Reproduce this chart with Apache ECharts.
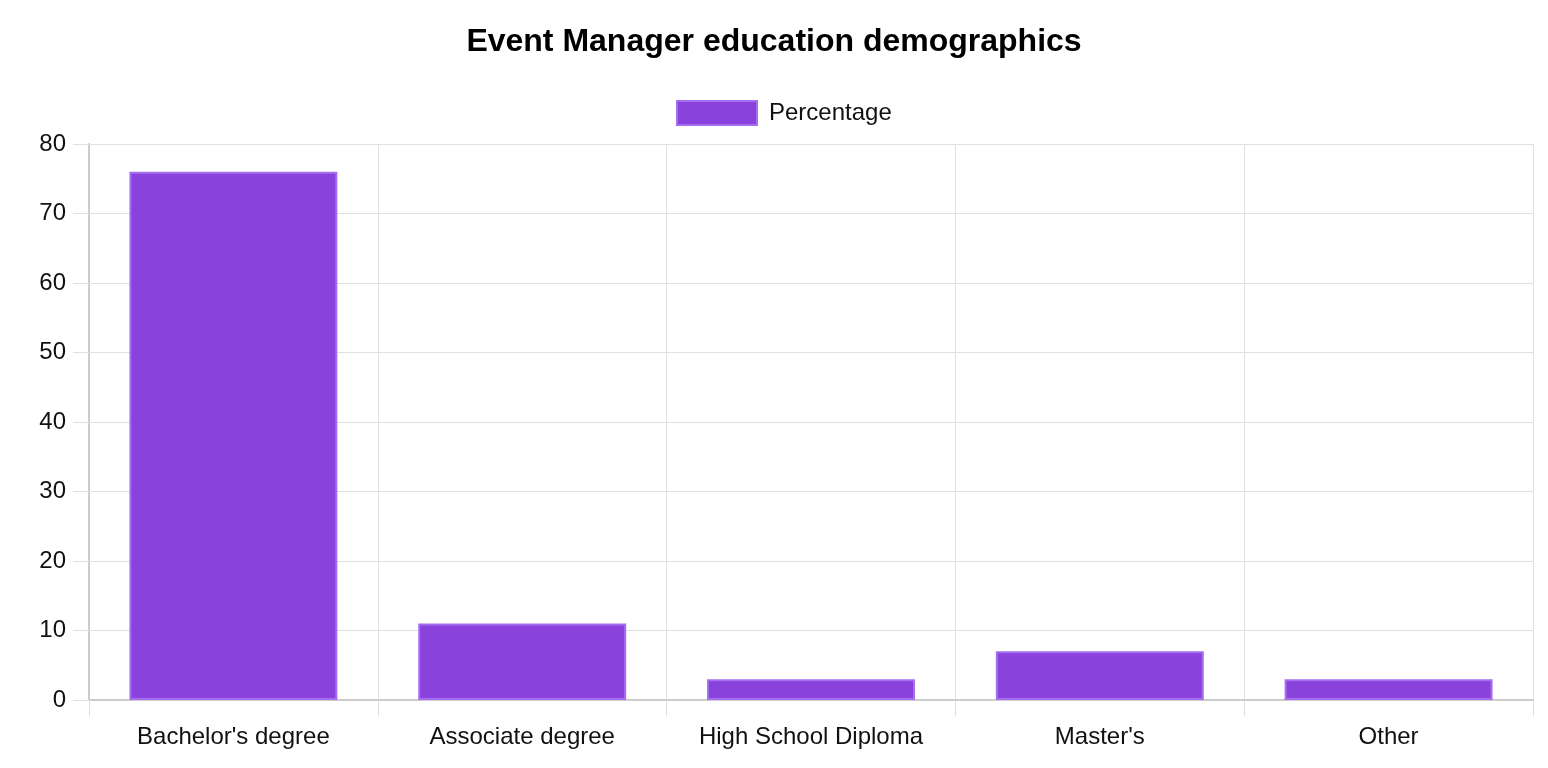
<!DOCTYPE html>
<html lang="en">
<head>
    <meta charset="UTF-8">
    <title>Event Manager education demographics</title>
    <script src="https://cdn.jsdelivr.net/npm/echarts@6/dist/echarts.min.js"></script>
    <style>
        html, body { margin: 0; padding: 0; background: #fff; }
        #chart { width: 1548px; height: 768px; }
    </style>
</head>
<body>
    <div id="chart"></div>
    <script>
        // data
        var categories = ["Bachelor's degree", 'Associate degree', 'High School Diploma', "Master's", 'Other'];
        var percentages = [76, 11, 3, 7, 3];
        var seriesName = 'Percentage';

        var chart = echarts.init(document.getElementById('chart'));
        var font = 'Helvetica, Arial, "Liberation Sans", sans-serif';
        chart.setOption({
            animation: false,
            title: {
                text: 'Event Manager education demographics',
                left: 'center',
                top: 21,
                textStyle: { fontFamily: font, fontSize: 32, fontWeight: 'bold', color: '#000' }
            },
            legend: {
                top: 95,
                left: 671,
                icon: 'rect',
                itemWidth: 80,
                itemHeight: 24,
                textStyle: { fontFamily: font, fontSize: 24, color: '#111', padding: [0, 0, 0, 7] },
                data: [seriesName]
            },
            grid: { left: 89, right: 15, top: 144, bottom: 68 },
            xAxis: {
                type: 'category',
                data: categories,
                axisLine: { lineStyle: { color: '#ccc', width: 2 } },
                axisTick: { show: true, interval: 0, length: 16, lineStyle: { color: '#ddd' } },
                splitLine: { show: true, interval: 0, lineStyle: { color: '#e0e0e0' } },
                axisLabel: { interval: 0, fontFamily: font, fontSize: 24, color: '#111', margin: 25 }
            },
            yAxis: {
                type: 'value',
                min: 0,
                max: 80,
                interval: 10,
                axisLine: { show: true, lineStyle: { color: '#ccc', width: 2 } },
                axisTick: { show: true, length: 16, lineStyle: { color: '#e0e0e0' } },
                splitLine: { lineStyle: { color: '#e0e0e0' } },
                axisLabel: { fontFamily: font, fontSize: 24, color: '#111', margin: 23 }
            },
            series: [{
                name: seriesName,
                type: 'bar',
                data: percentages,
                barWidth: '72%',
                itemStyle: { color: '#8a42dd', borderColor: '#a56ef0', borderWidth: 2 }
            }]
        });
    </script>
</body>
</html>
